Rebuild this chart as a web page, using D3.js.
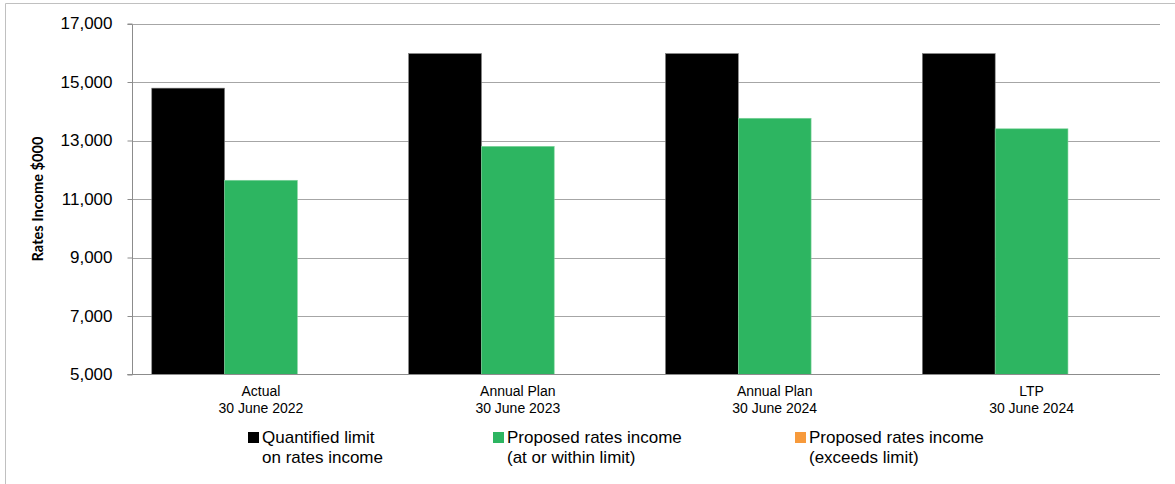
<!DOCTYPE html>
<html>
<head>
<meta charset="utf-8">
<script src="https://cdn.jsdelivr.net/npm/d3@7"></script>
<style>
  html, body { margin: 0; padding: 0; background: #fff; }
  svg { display: block; }
</style>
</head>
<body>
<svg id="chart" width="1175" height="484"></svg>
<script>
const categories = [
  ["Actual", "30 June 2022"],
  ["Annual Plan", "30 June 2023"],
  ["Annual Plan", "30 June 2024"],
  ["LTP", "30 June 2024"]
];
const seriesNames = [
  ["Quantified limit", "on rates income"],
  ["Proposed rates income", "(at or within limit)"],
  ["Proposed rates income", "(exceeds limit)"]
];
const limitValues = [14790, 15970, 15970, 15970];
const withinValues = [11640, 12800, 13760, 13400];
const exceedsValues = [0, 0, 0, 0];
const yTicks = [5000, 7000, 9000, 11000, 13000, 15000, 17000];
const colors = ["#000000", "#2db561", "#f79a3b"];
const strokes = ["#7a7a7a", "#7fd39c", "#f79a3b"];

(function () {
const svg = d3.select("#chart");
const font = "'Liberation Sans', Arial, sans-serif";

// outer frame
svg.append("path")
  .attr("d", "M5.5,484 L5.5,3.5 L1175,3.5")
  .attr("fill", "none").attr("stroke", "#c0c0c0").attr("stroke-width", 1);

const pLeft = 132.5, pRight = 1160, pTop = 23.5, pBottom = 374.5;
const y = d3.scaleLinear().domain([5000, 17000]).range([pBottom, pTop]).clamp(true);
const x0 = d3.scaleBand().domain(d3.range(categories.length)).range([pLeft, pRight])
  .paddingInner(0.15).paddingOuter(0.075);
const x1 = d3.scaleBand().domain([0, 1, 2]).range([0, x0.bandwidth()]).padding(0);

// gridlines
svg.append("g").selectAll("line").data(yTicks.slice(1)).join("line")
  .attr("x1", pLeft).attr("x2", pRight)
  .attr("y1", d => Math.round(y(d)) + 0.5).attr("y2", d => Math.round(y(d)) + 0.5)
  .attr("stroke", "#a6a6a6").attr("stroke-width", 1);

// bars
const data = categories.map((c, i) => [limitValues[i], withinValues[i], exceedsValues[i]]);
const groups = svg.append("g").selectAll("g").data(data).join("g")
  .attr("transform", (d, i) => `translate(${x0(i)},0)`);
groups.selectAll("rect").data(d => d.map((v, s) => ({ v, s }))).join("rect")
  .attr("x", d => x1(d.s))
  .attr("width", x1.bandwidth())
  .attr("y", d => y(d.v))
  .attr("height", d => y(5000) - y(d.v))
  .attr("fill", d => colors[d.s])
  .attr("stroke", d => d.v > 5000 ? strokes[d.s] : "none")
  .attr("stroke-width", 0.6);

// y axis
const yAxis = d3.axisLeft(y).tickValues(yTicks).tickSize(5).tickPadding(15)
  .tickFormat(d3.format(","));
const gy = svg.append("g").attr("transform", `translate(${pLeft},0)`).call(yAxis);
gy.select(".domain").attr("stroke", "#8c8c8c").attr("d", `M-5,${Math.round(y(17000))+0.5}H0V${pBottom}H-5`);
gy.selectAll(".tick line").attr("stroke", "#8c8c8c");
gy.selectAll(".tick text").attr("font-family", font).attr("font-size", 17).attr("fill", "#000");

// x axis baseline
svg.append("line").attr("x1", pLeft - 5).attr("x2", pRight)
  .attr("y1", pBottom).attr("y2", pBottom).attr("stroke", "#8c8c8c").attr("stroke-width", 1);

// category labels
const xl = svg.append("g").selectAll("text").data(categories).join("text")
  .attr("x", (d, i) => x0(i) + x0.bandwidth() / 2)
  .attr("y", 396)
  .attr("text-anchor", "middle")
  .attr("font-family", font).attr("font-size", 14).attr("fill", "#000");
xl.selectAll("tspan").data(d => d).join("tspan")
  .attr("x", function () { return d3.select(this.parentNode).attr("x"); })
  .attr("dy", (d, i) => i === 0 ? 0 : 17)
  .text(d => d);

// y title
svg.append("text")
  .attr("transform", `translate(43,${(pTop + pBottom) / 2}) rotate(-90)`)
  .attr("text-anchor", "middle")
  .attr("font-family", "Lato, 'Open Sans', sans-serif").attr("font-weight", "bold")
  .attr("font-size", 14.6).attr("fill", "#000")
  .text("Rates Income $000");

// legend
const legendX = [248, 493, 795];
const lg = svg.append("g").selectAll("g").data(seriesNames).join("g")
  .attr("transform", (d, i) => `translate(${legendX[i]},0)`);
lg.append("rect").attr("x", 0).attr("y", 432).attr("width", 11).attr("height", 11)
  .attr("fill", (d, i) => colors[i]);
const lt = lg.append("text").attr("x", 14).attr("y", 442.5)
  .attr("font-family", font).attr("font-size", 17).attr("fill", "#000");
lt.selectAll("tspan").data(d => d).join("tspan")
  .attr("x", 14).attr("dy", (d, i) => i === 0 ? 0 : 20).text(d => d);
})();
</script>
</body>
</html>
